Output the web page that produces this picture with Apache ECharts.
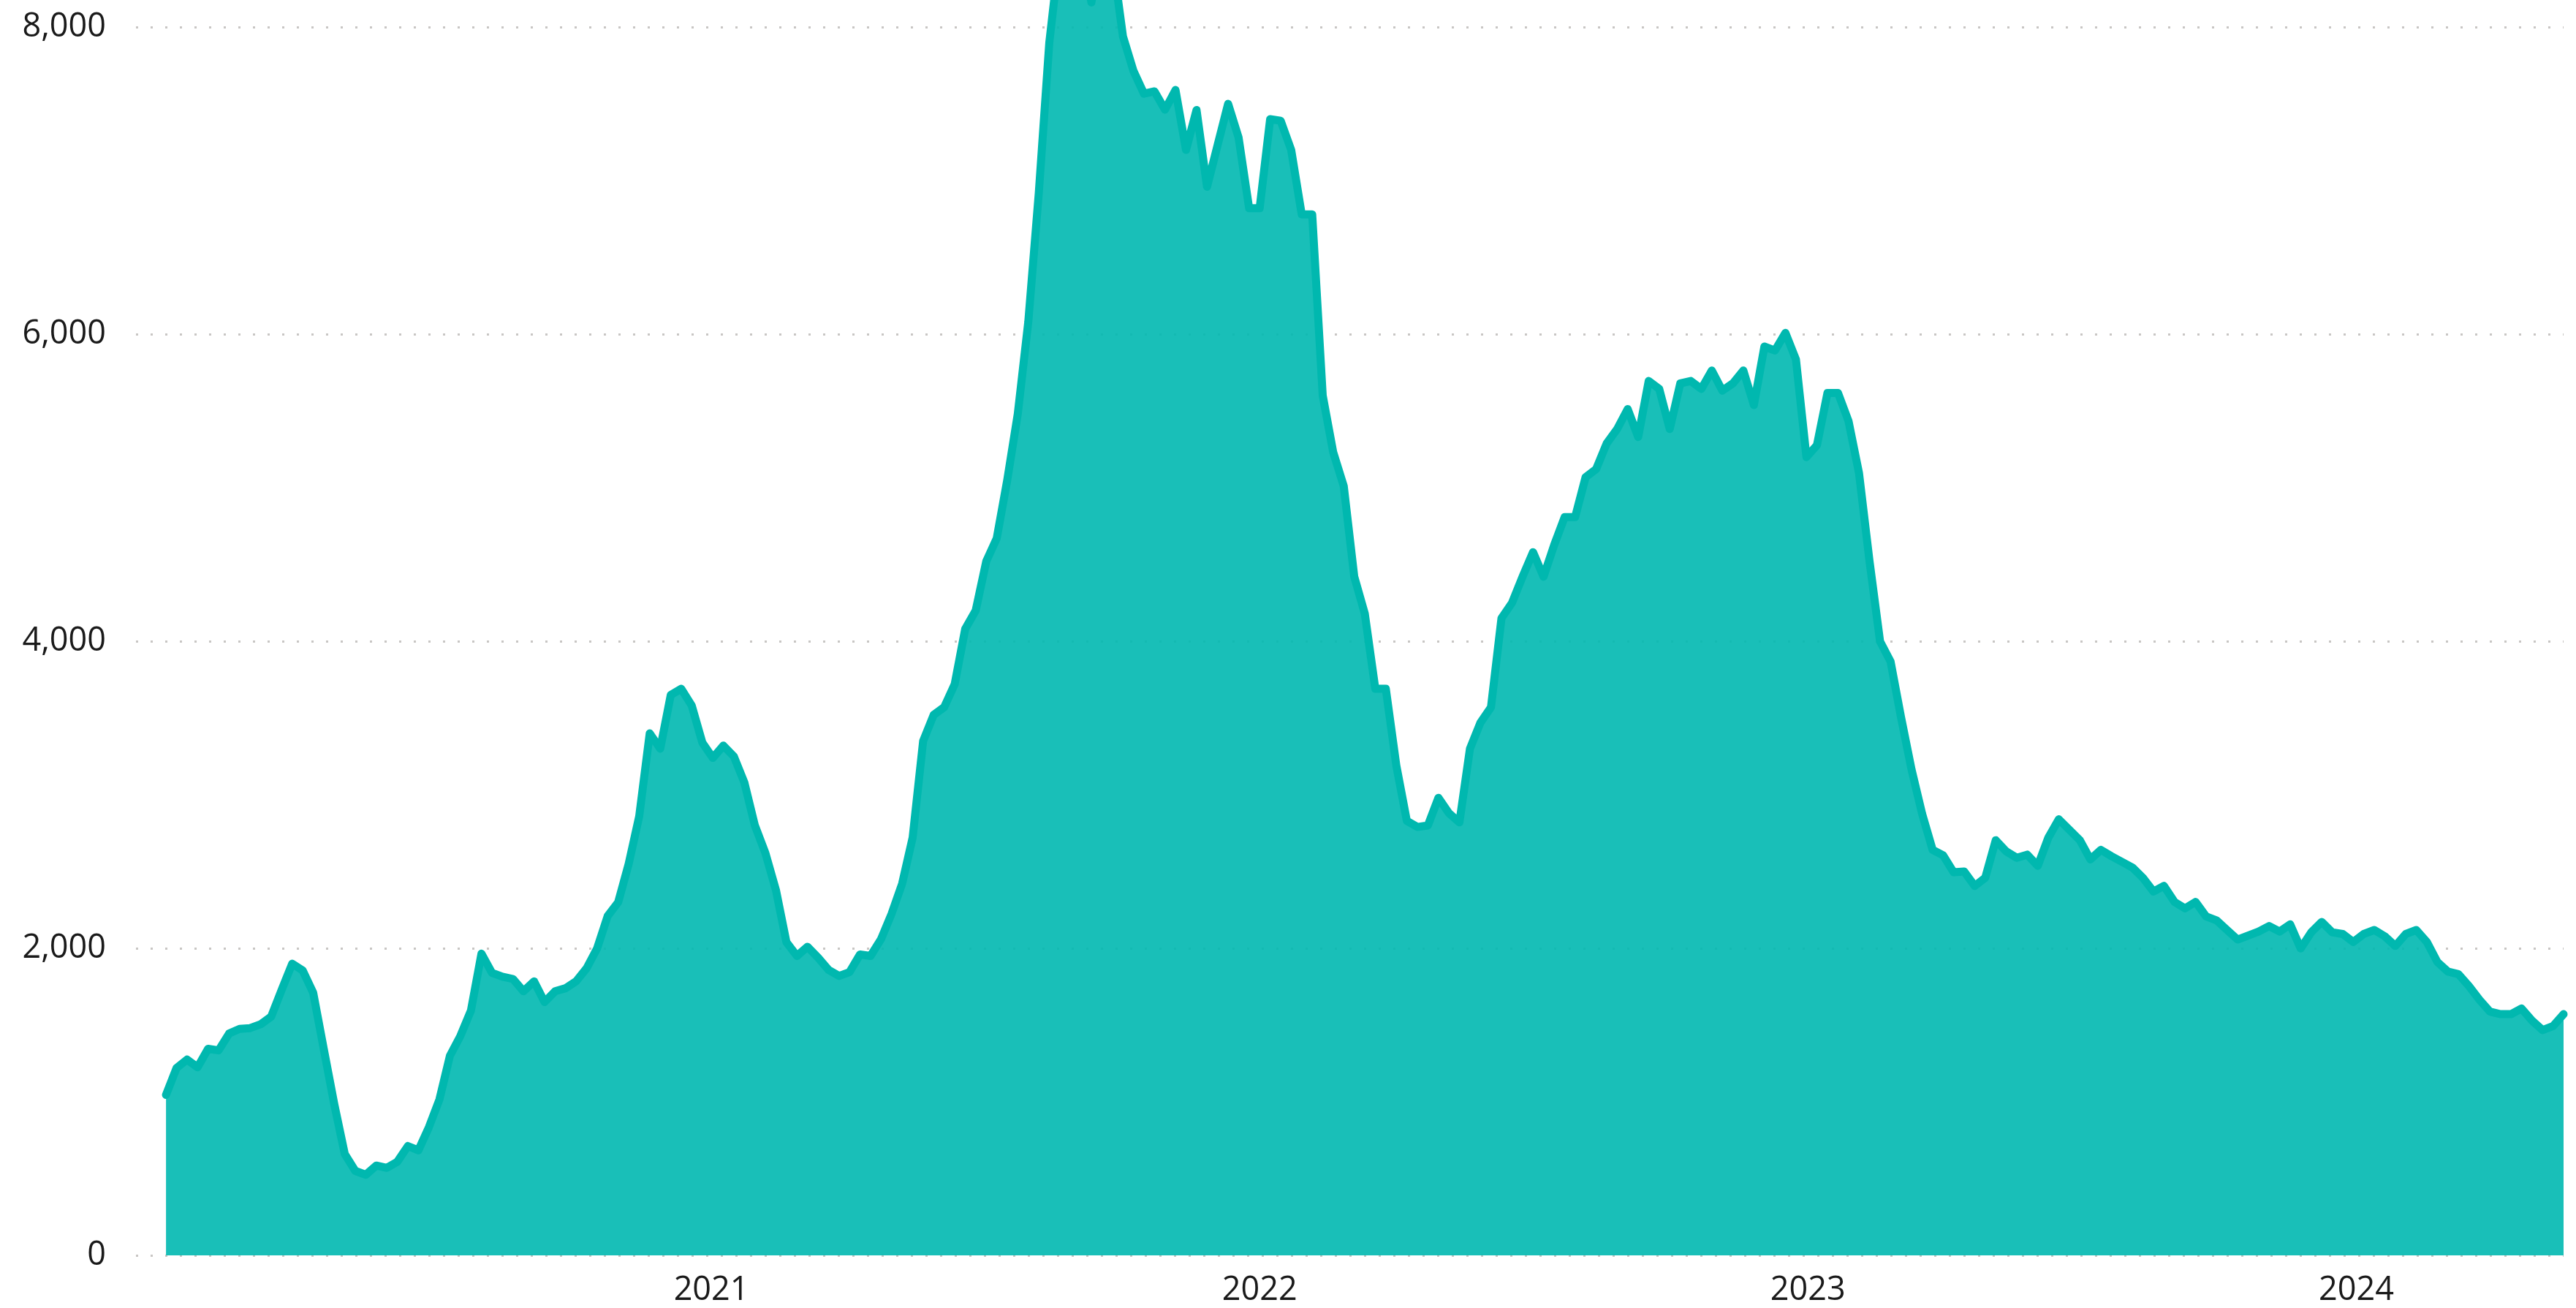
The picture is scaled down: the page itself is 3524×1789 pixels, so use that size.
<!DOCTYPE html>
<html>
<head>
<meta charset="utf-8">
<script src="https://cdn.jsdelivr.net/npm/echarts@6/dist/echarts.min.js"></script>
<style>
html,body{margin:0;padding:0;background:#fff;}
#chart{width:3524px;height:1789px;}
</style>
</head>
<body>
<div id="chart"></div>
<script>
// Weekly series, first week ending 2020-01-04
const firstWeek = [2020, 0, 4];
const values = [
1045,1220,1275,1225,1345,1335,1445,1475,1480,1505,
1555,1730,1900,1855,1710,1345,985,660,550,525,
585,570,610,712,684,835,1015,1300,1430,1595,
1965,1840,1815,1800,1720,1785,1650,1720,1740,1785,
1870,2000,2210,2300,2550,2860,3400,3300,3650,3690,
3580,3340,3240,3320,3250,3080,2800,2620,2380,2040,
1950,2010,1940,1860,1820,1845,1960,1950,2060,2225,
2420,2720,3350,3520,3570,3720,4080,4200,4520,4670,
5050,5480,6080,6920,7900,8500,8750,8600,8160,8550,
8450,7940,7715,7566,7581,7462,7590,7200,7460,6960,
7230,7500,7280,6820,6820,7400,7390,7200,6780,6780,
5600,5230,5010,4420,4180,3690,3690,3190,2830,2790,
2800,2980,2880,2820,3300,3470,3570,4150,4250,4420,
4580,4420,4625,4808,4808,5069,5121,5288,5382,5512,
5330,5695,5643,5382,5679,5695,5643,5763,5632,5679,
5763,5538,5919,5893,6008,5836,5199,5277,5617,5617,
5434,5095,4521,3999,3868,3503,3163,2876,2641,2605,
2495,2500,2406,2459,2704,2631,2589,2610,2537,2720,
2840,2772,2704,2579,2641,2600,2563,2526,2459,2370,
2406,2302,2260,2302,2208,2182,2119,2057,2083,2109,
2145,2109,2156,1999,2104,2172,2104,2093,2041,2093,
2119,2078,2015,2093,2119,2041,1911,1848,1832,1754,
1665,1587,1571,1571,1608,1529,1467,1493,1571
];
const yTicks = [0, 2000, 4000, 6000, 8000];

const weeks = values.map((_, i) => new Date(firstWeek[0], firstWeek[1], firstWeek[2] + 7 * i).getTime());
const seriesData = values.map((v, i) => [weeks[i], v]);

const DAY = 24 * 3600 * 1000;
const chart = echarts.init(document.getElementById('chart'), null, {renderer: 'canvas'});
const FONT = '"Segoe UI", "Open Sans", sans-serif';

chart.setOption({
  animation: false,
  backgroundColor: '#ffffff',
  grid: {left: 186, right: 17, top: 37, bottom: 72, containLabel: false},
  xAxis: {
    type: 'time',
    min: weeks[0] - 20 * DAY,
    max: weeks[weeks.length - 1],
    minInterval: 365 * DAY,
    maxInterval: 366 * DAY,
    axisLine: {show: false},
    axisTick: {show: false},
    splitLine: {show: false},
    axisLabel: {
      color: '#1a1a1a',
      fontSize: 45,
      fontFamily: FONT,
      margin: 26,
      showMinLabel: false,
      showMaxLabel: false,
      hideOverlap: false,
      formatter: function (val) {
        if (val < weeks[0]) return '';
        const d = new Date(val);
        return (d.getMonth() === 0 && d.getDate() === 1) ? String(d.getFullYear()) : '';
      }
    }
  },
  yAxis: {
    type: 'value',
    min: yTicks[0],
    max: yTicks[yTicks.length - 1],
    interval: yTicks[1] - yTicks[0],
    axisLine: {show: false},
    axisTick: {show: false},
    axisLabel: {
      color: '#1a1a1a',
      fontSize: 45,
      fontFamily: FONT,
      margin: 41,
      formatter: v => v.toLocaleString('en-US')
    },
    splitLine: {
      show: true,
      lineStyle: {color: '#C8C6C4', width: 3, type: [3, 17]}
    }
  },
  series: [{
    type: 'line',
    data: seriesData,
    symbol: 'none',
    showSymbol: false,
    clip: false,
    lineStyle: {color: '#00B8AF', width: 11, join: 'round', cap: 'round'},
    itemStyle: {color: '#00B8AF'},
    areaStyle: {color: '#00B8B0', opacity: 0.9}
  }]
});
</script>
</body>
</html>
